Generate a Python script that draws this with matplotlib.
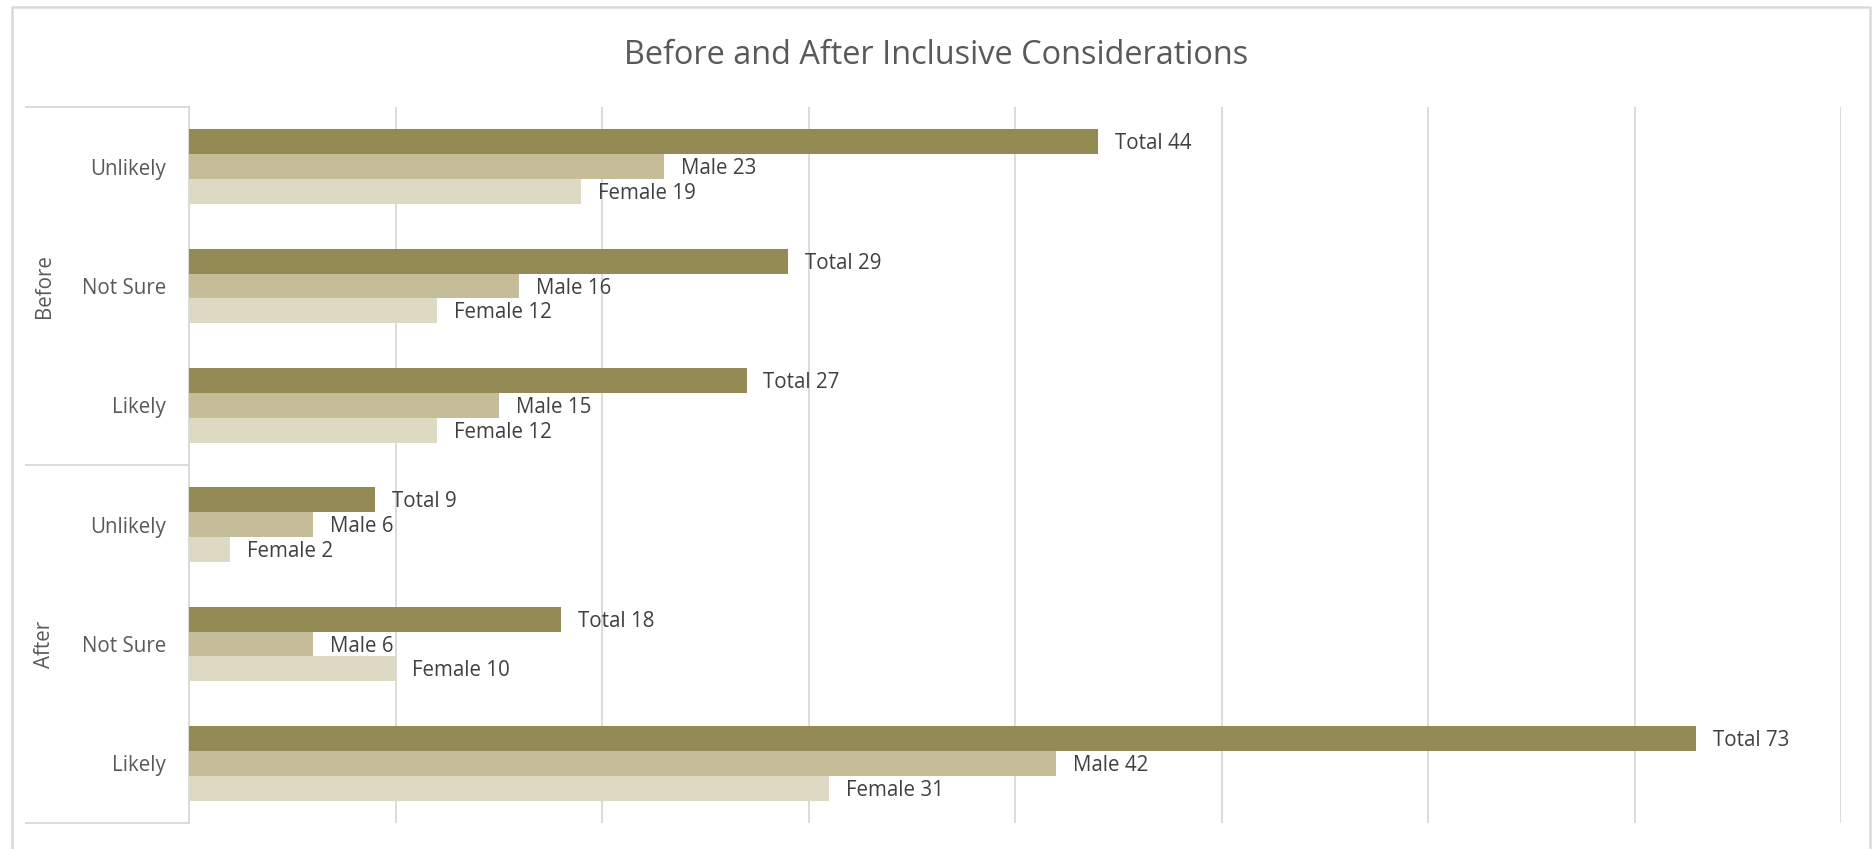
import matplotlib
matplotlib.use("Agg")
import matplotlib.pyplot as plt
import matplotlib.transforms as mtransforms
from matplotlib.lines import Line2D

plt.rcParams['font.family'] = ['Open Sans', 'DejaVu Sans']

# data (top to bottom as shown)
groups = ["Before", "After"]
categories = ["Unlikely", "Not Sure", "Likely", "Unlikely", "Not Sure", "Likely"]
total = [44, 29, 27, 9, 18, 73]
male = [23, 16, 15, 6, 6, 42]
female = [19, 12, 12, 2, 10, 31]

W, H = 1872, 849
GRID = "#D9D9D9"
C_TOTAL = "#948A54"
C_MALE = "#C4BD97"
C_FEMALE = "#DDD9C3"

fig = plt.figure(figsize=(W / 100, H / 100), dpi=100)
fig.patch.set_facecolor("white")

# plot area in pixel terms
left, right, top, bottom = 189, 1841, 107, 823
ax = fig.add_axes([left / W, 1 - bottom / H, (right - left) / W, (bottom - top) / H])

ypos = list(range(len(categories)))
h = 0.208

ax.barh([y - h for y in ypos], total, height=h, color=C_TOTAL, zorder=3)
ax.barh(ypos, male, height=h, color=C_MALE, zorder=3)
ax.barh([y + h for y in ypos], female, height=h, color=C_FEMALE, zorder=3)

for y, t, m, f in zip(ypos, total, male, female):
    for val, yy, name in [(t, y - h, "Total"), (m, y, "Male"), (f, y + h, "Female")]:
        ax.annotate(f"{name} {val}", xy=(val, yy), xytext=(12.2, -1.5),
                    textcoords="offset points", va="center", ha="left",
                    fontsize=14.8, color="#404040")

ax.set_xlim(0, 80)
ax.set_ylim(len(categories) - 0.5, -0.5)
ax.set_xticks(range(0, 81, 10))
ax.set_xticklabels([])
ax.tick_params(axis="x", length=0)
ax.set_yticks(ypos)
ax.set_yticklabels(categories, fontsize=14.8, color="#595959")
ax.tick_params(axis="y", length=0, pad=16.5)
ax.grid(axis="x", color=GRID, linewidth=1.3, zorder=0)
for s in ["top", "right", "bottom"]:
    ax.spines[s].set_visible(False)
ax.spines["left"].set_color(GRID)
ax.spines["left"].set_linewidth(1.3)

# group labels and separators on the category axis
blend = mtransforms.blended_transform_factory(fig.transFigure, ax.transData)
n_per = len(categories) // len(groups)
for gi, g in enumerate(groups):
    yc = gi * n_per + (n_per - 1) / 2
    fig.text(44 / W, yc, g, rotation=90, ha="center", va="center",
             fontsize=14.8, color="#595959", transform=blend)
for yb in [-0.5, n_per - 0.5, len(categories) - 0.5]:
    fig.add_artist(Line2D([26 / W, left / W], [yb, yb], color=GRID,
                          linewidth=1.3, transform=blend))

# title
fig.text(0.5, 1 - 56 / H, "Before and After Inclusive Considerations",
         ha="center", va="center", fontsize=23.4, color="#595959")

# chart border
bx0, bx1, by0 = 12 / W, 1870 / W, 1 - 7 / H
fig.add_artist(Line2D([bx0, bx0, bx1, bx1], [0, by0, by0, 0], color=GRID,
                      linewidth=1.8, transform=fig.transFigure))

fig.savefig("out.png", dpi=100)
